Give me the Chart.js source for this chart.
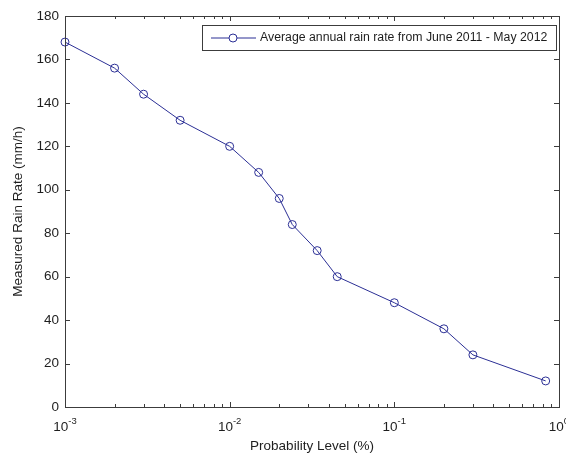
<!DOCTYPE html>
<html>
<head>
<meta charset="utf-8">
<script src="https://cdn.jsdelivr.net/npm/chart.js@4.4.1/dist/chart.umd.min.js"></script>
<style>
  html, body { margin: 0; padding: 0; background: #fff; }
  #wrap { width: 566px; height: 454px; position: relative; }
</style>
</head>
<body>
<div id="wrap"><canvas id="rainChart"></canvas></div>
<script>
// data
const probabilityLevel = [0.001, 0.002, 0.003, 0.005, 0.01, 0.015, 0.02, 0.024, 0.034, 0.045, 0.1, 0.2, 0.3, 0.83];
const rainRate = [168, 156, 144, 132, 120, 108, 96, 84, 72, 60, 48, 36, 24, 12];

const xDecades = [0.001, 0.01, 0.1, 1];
const xExponents = ['-3', '-2', '-1', '0'];
const yTicks = [0, 20, 40, 60, 80, 100, 120, 140, 160, 180];

const seriesLabel = 'Average annual rain rate from June 2011 - May 2012';
const lineColor = '#2b2f95';
const axisColor = '#3c3c3c';
const textColor = '#1e1e1e';
const fontFamily = '"Liberation Sans", Arial, sans-serif';

Chart.defaults.font.family = fontFamily;
Chart.defaults.color = textColor;

// box, inward ticks, x labels with exponents, inside legend
const matlabAxes = {
    id: 'matlabAxes',
    afterDraw(chart) {
        const ctx = chart.ctx;
        const area = chart.chartArea;
        const xs = chart.scales.x;
        const ys = chart.scales.y;
        ctx.save();
        ctx.strokeStyle = axisColor;
        ctx.lineWidth = 1;
        ctx.strokeRect(Math.round(area.left) + 0.5, Math.round(area.top) + 0.5,
            Math.round(area.right - area.left), Math.round(area.bottom - area.top));

        // x ticks (major + minor), bottom and top
        ctx.beginPath();
        xs.ticks.forEach(t => {
            const px = Math.round(xs.getPixelForValue(t.value)) + 0.5;
            const len = xDecades.includes(t.value) ? 5 : 3;
            ctx.moveTo(px, area.bottom);
            ctx.lineTo(px, area.bottom - len);
            ctx.moveTo(px, area.top);
            ctx.lineTo(px, area.top + len);
        });
        // y ticks, left and right
        ys.ticks.forEach(t => {
            const py = Math.round(ys.getPixelForValue(t.value)) + 0.5;
            ctx.moveTo(area.left, py);
            ctx.lineTo(area.left + 5, py);
            ctx.moveTo(area.right, py);
            ctx.lineTo(area.right - 5, py);
        });
        ctx.stroke();

        // x tick labels 10^n
        ctx.fillStyle = textColor;
        ctx.textBaseline = 'alphabetic';
        ctx.textAlign = 'left';
        xDecades.forEach((v, i) => {
            const px = xs.getPixelForValue(v);
            ctx.font = '13.5px ' + fontFamily;
            const baseW = ctx.measureText('10').width;
            ctx.font = '9.5px ' + fontFamily;
            const expW = ctx.measureText(xExponents[i]).width;
            const start = px - (baseW + expW) / 2;
            ctx.font = '13.5px ' + fontFamily;
            ctx.fillText('10', start, area.bottom + 23.5);
            ctx.font = '9.5px ' + fontFamily;
            ctx.fillText(xExponents[i], start + baseW, area.bottom + 16.5);
        });

        // legend
        const ds = chart.data.datasets[0];
        ctx.font = '12.3px ' + fontFamily;
        const textW = ctx.measureText(ds.label).width;
        const boxW = Math.round(58 + textW + 9);
        const boxH = 25;
        const bx = Math.round(area.right) - 3 - boxW;
        const by = Math.round(area.top) + 9;
        ctx.fillStyle = '#fff';
        ctx.fillRect(bx, by, boxW, boxH);
        ctx.strokeStyle = axisColor;
        ctx.strokeRect(bx + 0.5, by + 0.5, boxW, boxH);
        const my = by + boxH / 2 + 0.5;
        ctx.strokeStyle = lineColor;
        ctx.beginPath();
        ctx.moveTo(bx + 9, my);
        ctx.lineTo(bx + 54, my);
        ctx.stroke();
        ctx.beginPath();
        ctx.arc(bx + 31, my, 4, 0, Math.PI * 2);
        ctx.fillStyle = '#fff';
        ctx.fill();
        ctx.stroke();
        ctx.fillStyle = textColor;
        ctx.textBaseline = 'middle';
        ctx.fillText(ds.label, bx + 58, my);
        ctx.restore();
    }
};

const ctx = document.getElementById('rainChart').getContext('2d');
const rainChart = new Chart(ctx, {
    type: 'line',
    data: {
        datasets: [{
            label: seriesLabel,
            data: probabilityLevel.map((p, i) => ({ x: p, y: rainRate[i] })),
            borderColor: lineColor,
            borderWidth: 1,
            backgroundColor: 'rgba(0,0,0,0)',
            pointRadius: 4,
            pointBorderWidth: 1,
            pointBorderColor: lineColor,
            pointBackgroundColor: 'rgba(0,0,0,0)',
            tension: 0,
            clip: false
        }]
    },
    options: {
        responsive: true,
        maintainAspectRatio: false,
        animation: false,
        events: [],
        layout: { padding: { top: 16, right: 7, left: 0, bottom: 0 } },
        plugins: {
            legend: { display: false },
            tooltip: { enabled: false }
        },
        scales: {
            x: {
                type: 'logarithmic',
                min: 0.001,
                max: 1,
                grid: { display: false, drawTicks: false },
                border: { display: false },
                afterBuildTicks: scale => {
                    const ticks = [];
                    xDecades.forEach(d => {
                        for (let m = 1; m <= 9; m++) {
                            const v = +(d * m).toPrecision(3);
                            if (v <= 1) ticks.push({ value: v });
                        }
                    });
                    scale.ticks = ticks;
                },
                afterFit: scale => { scale.height = 47; },
                ticks: { autoSkip: false, maxRotation: 0, callback: () => '' },
                title: {
                    display: true,
                    text: 'Probability Level (%)',
                    font: { size: 13.5 },
                    color: textColor,
                    padding: { top: 0, bottom: 0 }
                }
            },
            y: {
                min: 0,
                max: 180,
                grid: { display: false, drawTicks: false },
                border: { display: false },
                afterBuildTicks: scale => { scale.ticks = yTicks.map(v => ({ value: v })); },
                afterFit: scale => { scale.width = 65; },
                ticks: { padding: 6, font: { size: 13.5 }, color: textColor },
                title: {
                    display: true,
                    text: 'Measured Rain Rate (mm/h)',
                    font: { size: 13.5 },
                    color: textColor,
                    padding: { top: 10, bottom: 0 }
                }
            }
        }
    },
    plugins: [matlabAxes]
});
</script>
</body>
</html>
